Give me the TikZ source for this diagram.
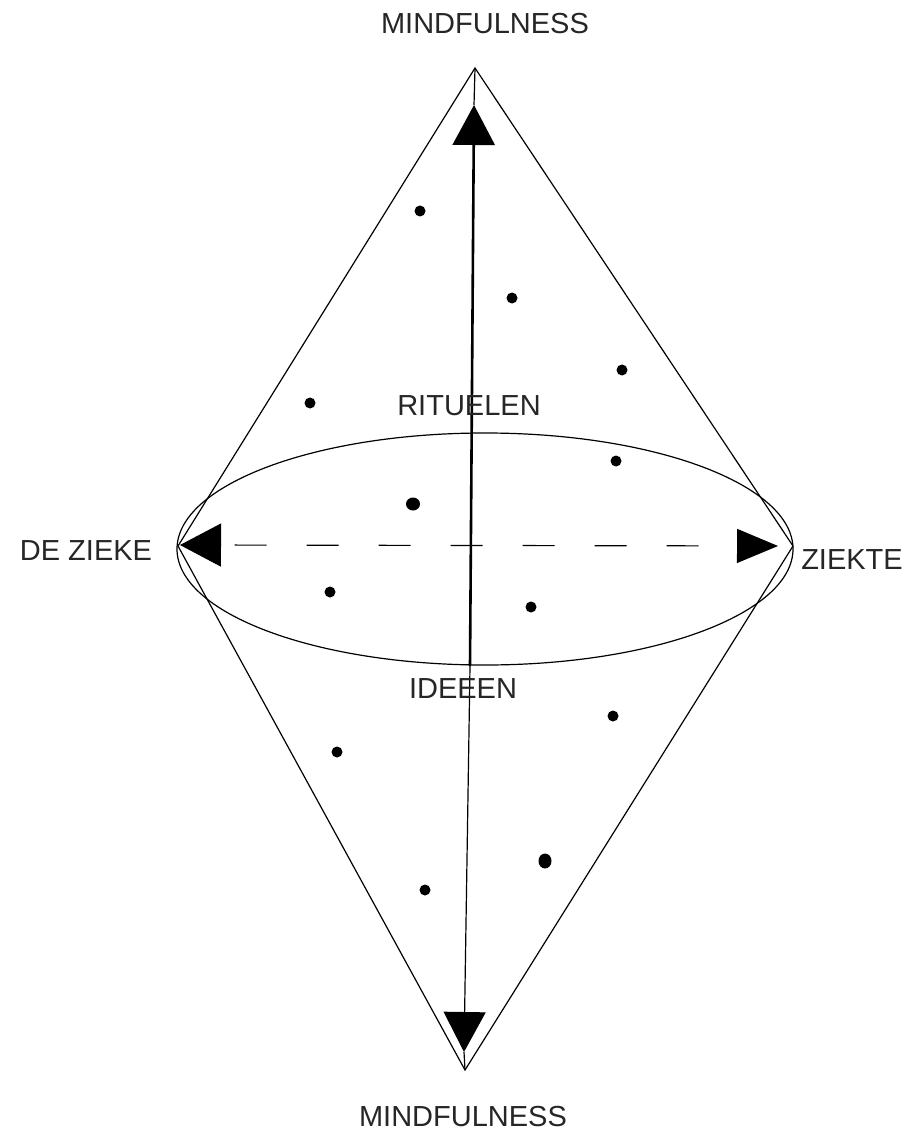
\documentclass[tikz,border=0pt]{standalone}
\usepackage{fontspec}
\setmainfont{Liberation Sans}
\usetikzlibrary{arrows.meta}
\begin{document}
\begin{tikzpicture}[x=1pt,y=-1pt,
  thin line/.style={line width=1.2pt, black},
  label text/.style={inner sep=0pt, text=black!85, font=\fontsize{29}{34}\selectfont},
  dot/.style={fill=black, draw=none},
  bigtip/.style={-{Triangle[width=42pt,length=40pt]}}
]
\useasboundingbox (0,0) rectangle (914,1139);
% key points
\coordinate (T) at (475,68);
\coordinate (B) at (465,1070);
\coordinate (L) at (178,546);
\coordinate (R) at (793,546);
\coordinate (C) at (470,666);
\coordinate (Ttip) at (474,105);
\coordinate (Btip) at (464,1052);
\coordinate (Ltip) at (180,545);
\coordinate (Rtip) at (778,546);
\coordinate (E) at (485,549);
% cones
\draw[thin line] (L) -- (T) -- (R);
\draw[thin line] (L) -- (B) -- (R);
% ellipse
\draw[thin line] (E) ellipse [x radius=308, y radius=116];
% vertical arrows
\draw[line width=2.6pt, bigtip] (C) -- (Ttip);
\draw[thin line] (Ttip) -- (T);
\draw[thin line, bigtip] (C) -- (Btip);
\draw[thin line] (Btip) -- (B);
% horizontal dashed arrow
\draw[thin line, {Triangle[width=43pt,length=41pt]}-{Triangle[width=34pt,length=41pt]},
      dash pattern=on 32pt off 40pt, dash phase=58pt] (Ltip) -- (Rtip);
% dots
\foreach \n/\x/\y in {d1/420/211, d2/512/298, d3/622/370, d4/310/403, d5/616/461,
  d7/330/592, d8/531/607, d9/613/716, d10/337/752, d12/425/890}
  \fill[dot] (\x,\y) circle [radius=5.5pt];
\fill[dot] (413,504) circle [x radius=7pt, y radius=6.5pt];
\fill[dot] (545,861) circle [x radius=6.5pt, y radius=7.5pt];
% labels
\node[label text] (mtop) at (485,24) {MINDFULNESS};
\node[label text] (mbot) at (463,1117) {MINDFULNESS};
\node[label text] (dz) at (86,551) {DE ZIEKE};
\node[label text] (zk) at (852,560) {ZIEKTE};
\node[label text] (rit) at (469,406) {RITUELEN};
\node[label text] (ide) at (463,689) {IDEEEN};
\end{tikzpicture}
\end{document}
